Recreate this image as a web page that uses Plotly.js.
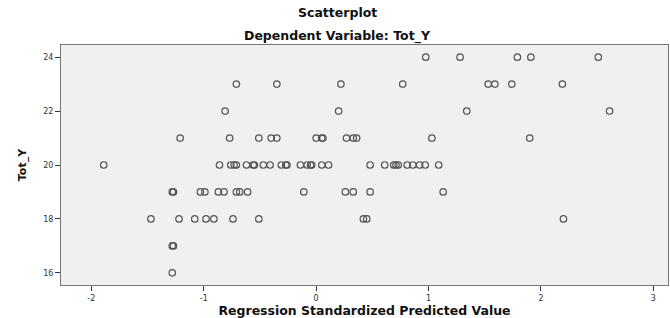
<!DOCTYPE html>
<html>
<head>
<meta charset="utf-8">
<script src="https://cdn.plot.ly/plotly-3.0.1.min.js"></script>
<style>html,body{margin:0;padding:0;background:#fff;}#chart{width:670px;height:318px;}</style>
</head>
<body>
<div id="chart"></div>
<script>
// Predicted (standardized) values grouped by observed Tot_Y
var y24 = [0.975, 1.28, 1.79, 1.91, 2.51];
var y23 = [-0.71, -0.35, 0.22, 0.77, 1.53, 1.59, 1.74, 2.19];
var y22 = [-0.81, 0.20, 1.34, 2.61];
var y21 = [-1.21, -0.77, -0.51, -0.40, -0.35, 0.0, 0.05, 0.06, 0.27, 0.33, 0.36, 1.03, 1.90];
var y20 = [-1.89, -0.86, -0.76, -0.73, -0.71, -0.62, -0.56, -0.55, -0.47, -0.41, -0.31, -0.27, -0.26, -0.14, -0.08, -0.05, -0.04, 0.05, 0.11, 0.48, 0.61, 0.69, 0.71, 0.73, 0.81, 0.86, 0.92, 0.97, 1.09];
var y19 = [-1.28, -1.27, -1.03, -0.99, -0.87, -0.82, -0.71, -0.68, -0.61, -0.11, 0.26, 0.33, 0.48, 1.13];
var y18 = [-1.47, -1.22, -1.08, -0.98, -0.91, -0.74, -0.51, 0.42, 0.45, 2.20];
var y17 = [-1.28, -1.27];
var y16 = [-1.28];
var groups = [[24, y24], [23, y23], [22, y22], [21, y21], [20, y20], [19, y19], [18, y18], [17, y17], [16, y16]];
var xTicks = [-2, -1, 0, 1, 2, 3];
var yTicks = [16, 18, 20, 22, 24];

var xs = [], ys = [];
groups.forEach(function (g) {
  g[1].forEach(function (v) { xs.push(v); ys.push(g[0]); });
});

var trace = {
  x: xs, y: ys, type: 'scatter', mode: 'markers',
  marker: {symbol: 'circle-open', size: 6.5, color: '#555', line: {width: 1.2, color: '#555'}},
  hoverinfo: 'none'
};

var font = 'DejaVu Sans, Verdana, sans-serif';
var tsize = 12.5;
var layout = {
  width: 670, height: 318,
  margin: {l: 61, r: 2, t: 45, b: 33},
  paper_bgcolor: '#ffffff', plot_bgcolor: '#f0f0f0',
  showlegend: false,
  font: {family: font, color: '#222'},
  xaxis: {
    range: [-2.27, 3.13], tickvals: xTicks, ticktext: xTicks.map(String),
    showgrid: false, zeroline: false, showline: true, mirror: true,
    linecolor: '#777', linewidth: 1, ticks: 'outside', ticklen: 5, tickcolor: '#333',
    tickfont: {size: 8, color: '#333', family: font},
    title: {text: '<b>Regression Standardized Predicted Value</b>', font: {size: tsize, color: '#111', family: font}, standoff: 3}
  },
  yaxis: {
    range: [15.55, 24.45], tickvals: yTicks, ticktext: yTicks.map(String),
    showgrid: false, zeroline: false, showline: true, mirror: true,
    linecolor: '#777', linewidth: 1, ticks: 'outside', ticklen: 5, tickcolor: '#333',
    tickfont: {size: 8, color: '#333', family: font},
    title: {text: '<b>Tot_Y</b>', font: {size: 11, color: '#111', family: font}, standoff: 14}
  },
  annotations: [
    {text: '<b>Scatterplot</b>', xref: 'paper', yref: 'paper', x: 0, y: 1, showarrow: false,
     font: {size: tsize, color: '#111', family: font}},
    {text: '<b>Dependent Variable: Tot_Y</b>', xref: 'paper', yref: 'paper', x: 0, y: 1, showarrow: false,
     font: {size: tsize, color: '#111', family: font}}
  ]
};
// position titles in pixel terms relative to plot area
var plotW = 670 - 61 - 2, plotH = 318 - 45 - 33;
var cx = (337 - 61) / plotW;
layout.annotations[0].x = cx; layout.annotations[0].xanchor = 'center';
layout.annotations[0].y = 1 + (45 - 12) / plotH; layout.annotations[0].yanchor = 'middle';
layout.annotations[1].x = cx; layout.annotations[1].xanchor = 'center';
layout.annotations[1].y = 1 + (45 - 36) / plotH; layout.annotations[1].yanchor = 'middle';

Plotly.newPlot('chart', [trace], layout, {displayModeBar: false, staticPlot: true});
</script>
</body>
</html>
